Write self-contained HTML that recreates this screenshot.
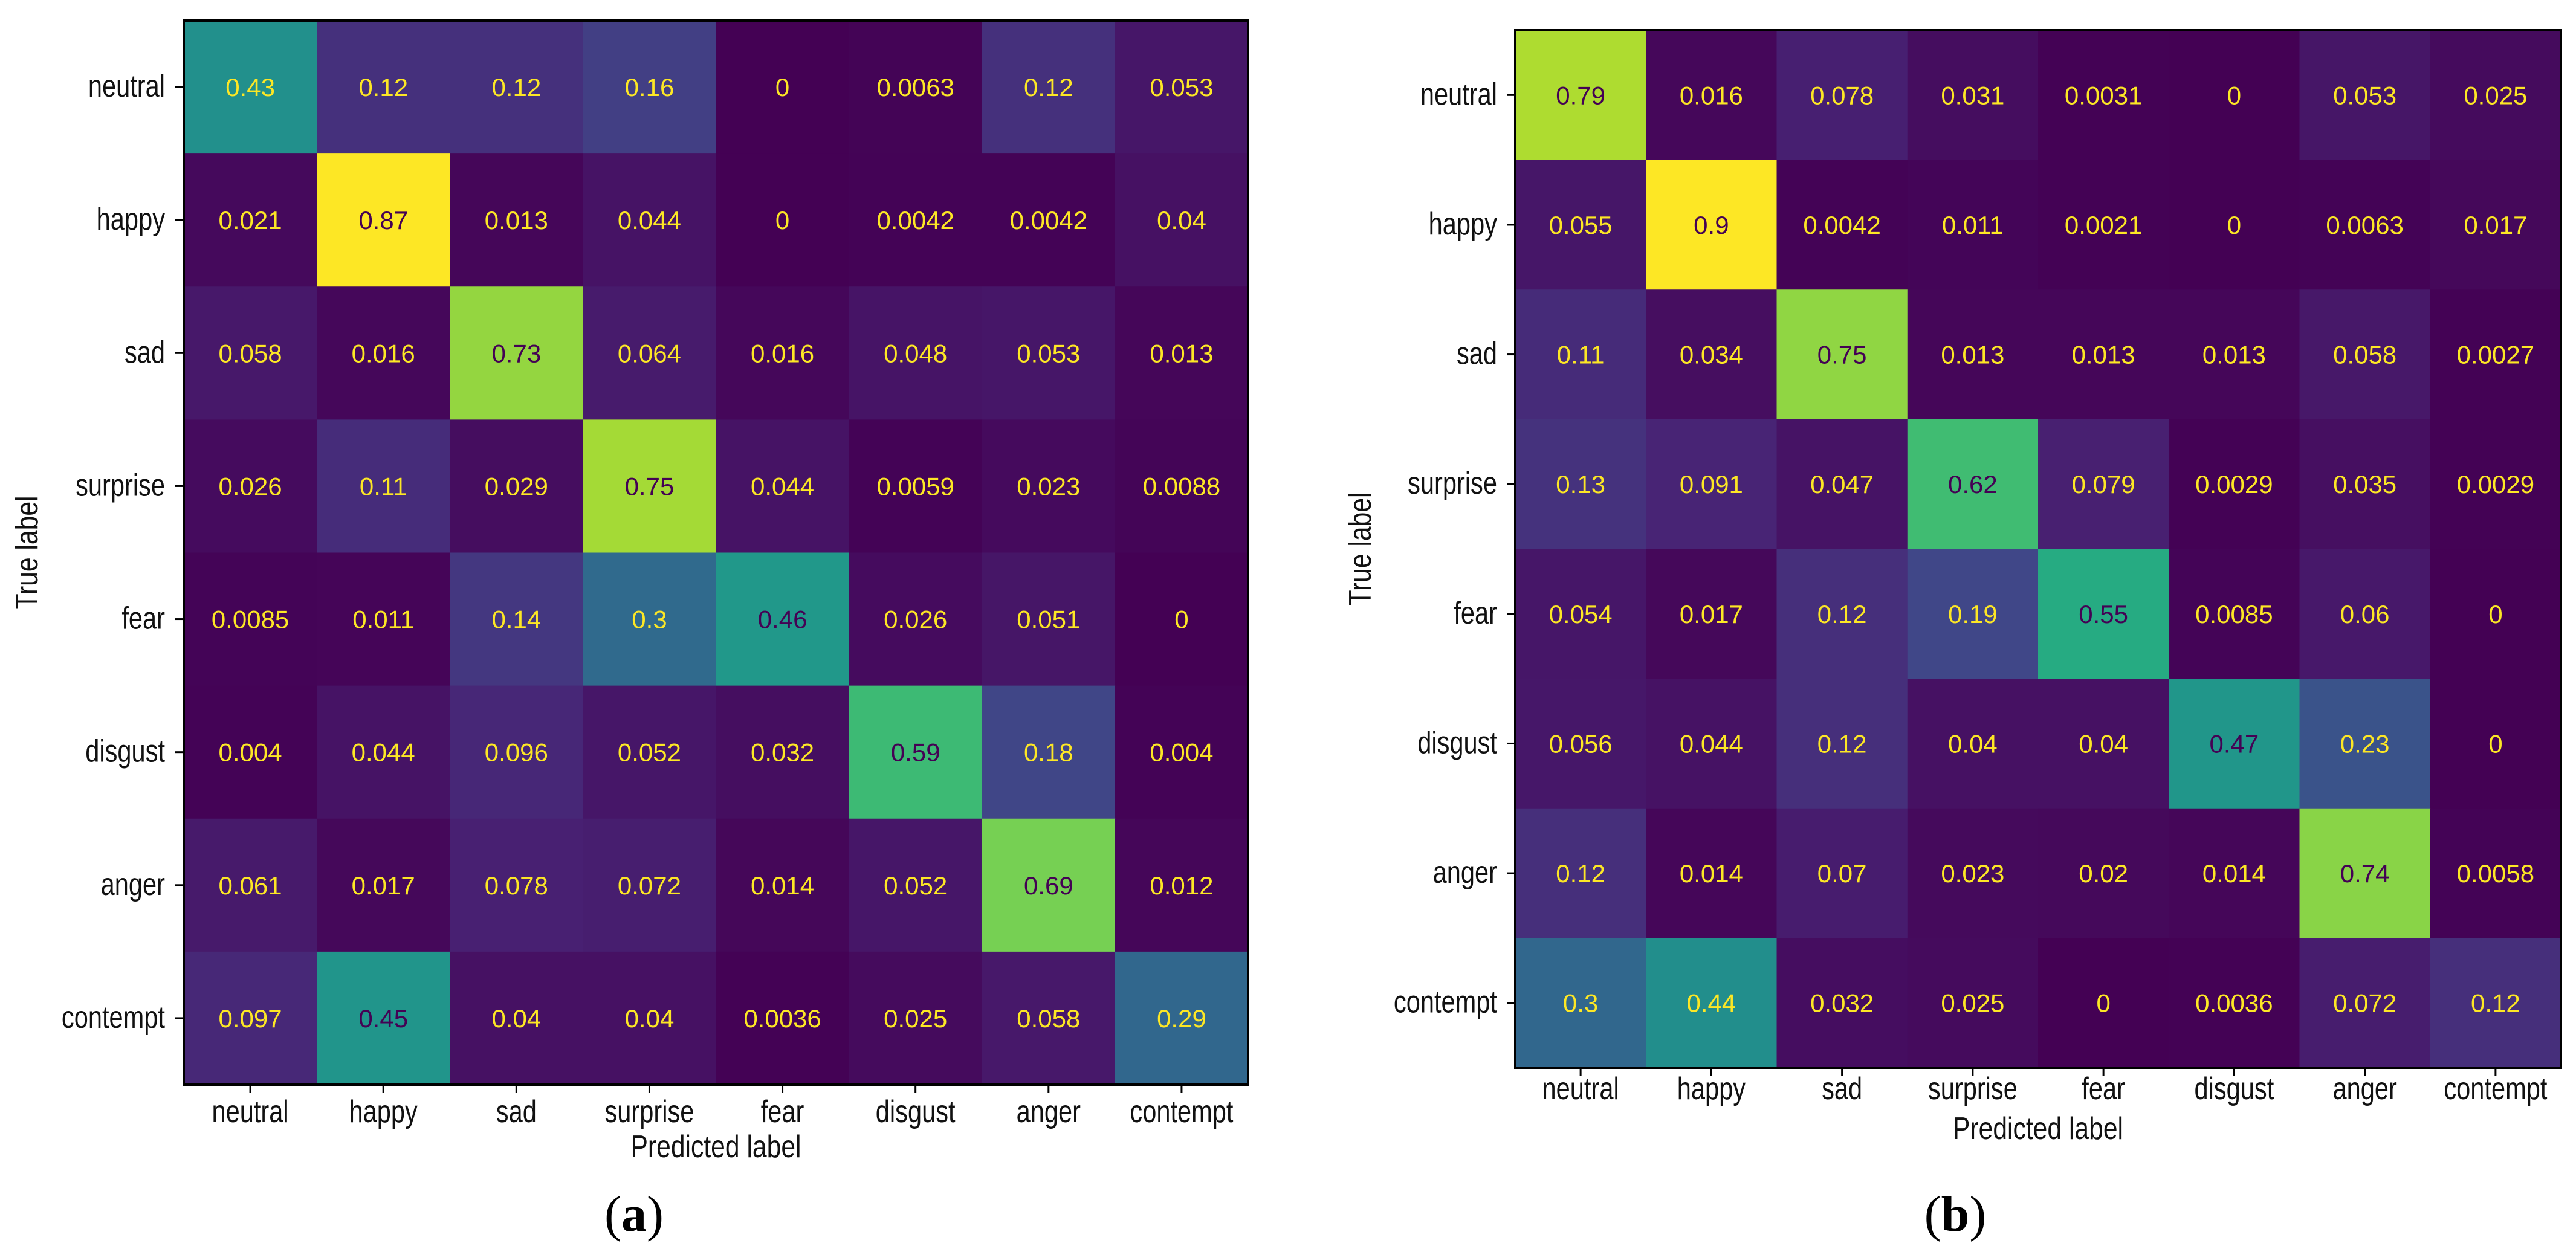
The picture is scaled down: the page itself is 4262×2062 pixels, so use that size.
<!DOCTYPE html>
<html><head><meta charset="utf-8">
<style>
html,body{margin:0;padding:0;background:#fff;}
svg{display:block;}
.sans{font-family:"Liberation Sans","DejaVu Sans",sans-serif;}
.serif{font-family:"Liberation Serif","DejaVu Serif",serif;}
</style></head>
<body>
<svg id="fig" width="4262" height="2062" viewBox="0 0 4262 2062" xmlns="http://www.w3.org/2000/svg"></svg>
<script>
const labels = ["neutral","happy","sad","surprise","fear","disgust","anger","contempt"];
const valuesA = [
 [0.43,0.12,0.12,0.16,0,0.0063,0.12,0.053],
 [0.021,0.87,0.013,0.044,0,0.0042,0.0042,0.04],
 [0.058,0.016,0.73,0.064,0.016,0.048,0.053,0.013],
 [0.026,0.11,0.029,0.75,0.044,0.0059,0.023,0.0088],
 [0.0085,0.011,0.14,0.3,0.46,0.026,0.051,0],
 [0.004,0.044,0.096,0.052,0.032,0.59,0.18,0.004],
 [0.061,0.017,0.078,0.072,0.014,0.052,0.69,0.012],
 [0.097,0.45,0.04,0.04,0.0036,0.025,0.058,0.29]
];
const valuesB = [
 [0.79,0.016,0.078,0.031,0.0031,0,0.053,0.025],
 [0.055,0.9,0.0042,0.011,0.0021,0,0.0063,0.017],
 [0.11,0.034,0.75,0.013,0.013,0.013,0.058,0.0027],
 [0.13,0.091,0.047,0.62,0.079,0.0029,0.035,0.0029],
 [0.054,0.017,0.12,0.19,0.55,0.0085,0.06,0],
 [0.056,0.044,0.12,0.04,0.04,0.47,0.23,0],
 [0.12,0.014,0.07,0.023,0.02,0.014,0.74,0.0058],
 [0.3,0.44,0.032,0.025,0,0.0036,0.072,0.12]
];

const NS="http://www.w3.org/2000/svg";
const svg=document.getElementById('fig');
const VIR=[[68,1,84],[72,36,117],[65,68,135],[53,95,141],[42,120,142],[33,145,140],[34,168,132],[68,191,112],[122,209,81],[189,223,38],[253,231,37]];
function viridis(t){t=Math.max(0,Math.min(1,t));const p=t*(VIR.length-1);const i=Math.min(Math.floor(p),VIR.length-2);const f=p-i;
 const c=VIR[i].map((v,k)=>Math.round(v+(VIR[i+1][k]-v)*f));return `rgb(${c[0]},${c[1]},${c[2]})`;}
function mk(tag,attrs,parent){const e=document.createElementNS(NS,tag);for(const k in attrs)e.setAttribute(k,attrs[k]);(parent||svg).appendChild(e);return e;}

function drawMatrix(cfg){
  const g=mk('g',{});
  
  
  const n=labels.length, cw=(cfg.x1-cfg.x0)/n, ch=(cfg.y1-cfg.y0)/n;
  const xs=i=>cfg.x0+cw*(i+0.5), ys=j=>cfg.y0+ch*(j+0.5);
  const flat=cfg.vals.flat(); const mn=Math.min(...flat), mx=Math.max(...flat);
  cfg.vals.forEach((row,j)=>row.forEach((v,i)=>{
    const t=(v-mn)/(mx-mn);
    const r=mk('rect',{x:cfg.x0+cw*i,y:cfg.y0+ch*j,width:cw+0.6,height:ch+0.6,fill:viridis(t)},g);
    
    
    const tx=mk('text',{class:'sans',x:xs(i),y:ys(j)+15,'text-anchor':'middle','font-size':42,fill:(v<(mn+mx)/2)?'#fde725':'#440154'},g);
    tx.textContent=String(v);
    
    
  }));
  mk('rect',{x:cfg.x0,y:cfg.y0,width:cfg.x1-cfg.x0,height:cfg.y1-cfg.y0,fill:'none',stroke:'#000','stroke-width':4},g);
  labels.forEach((l,i)=>{
    mk('line',{x1:xs(i),x2:xs(i),y1:cfg.y1,y2:cfg.y1+14,stroke:'#000','stroke-width':3},g);
    const t=mk('text',{class:'sans',transform:`translate(${xs(i)},${cfg.y1+cfg.xlab}) scale(0.8,1)`,'text-anchor':'middle','font-size':52,fill:'#111'},g);
    t.textContent=l;
    
    
    mk('line',{x1:cfg.x0-14,x2:cfg.x0,y1:ys(i),y2:ys(i),stroke:'#000','stroke-width':3},g);
    const ty=mk('text',{class:'sans',transform:`translate(${cfg.ylabR},${ys(i)+16}) scale(0.8,1)`,'text-anchor':'end','font-size':52,fill:'#111'},g);
    ty.textContent=l;
    
    
  });
  const xt=mk('text',{class:'sans',transform:`translate(${(cfg.x0+cfg.x1)/2},${cfg.y1+cfg.xtitle}) scale(0.82,1)`,'text-anchor':'middle','font-size':52,fill:'#111'},g);
  xt.textContent='Predicted label';
  
  
  const yt=mk('text',{class:'sans',transform:`translate(${cfg.ytx},${(cfg.y0+cfg.y1)/2}) rotate(-90) scale(0.82,1)`,'text-anchor':'middle','font-size':52,fill:'#111'},g);
  yt.textContent='True label';
  
  
  const cap=mk('text',{class:'serif',x:cfg.capX,y:2037,'text-anchor':'middle','font-size':84,fill:'#000'},svg);
  cap.innerHTML='(<tspan font-weight="bold">'+cfg.cap+'</tspan>)';
  
  
}
drawMatrix({name:'matrix-a',vals:valuesA,x0:304,x1:2065,y0:34,y1:1795,xlab:62,xtitle:120,ylabR:273,ytx:62,capX:1049,cap:'a'});
drawMatrix({name:'matrix-b',vals:valuesB,x0:2507,x1:4237,y0:50,y1:1767,xlab:52,xtitle:118,ylabR:2477,ytx:2268,capX:3235,cap:'b'});
</script>
</body></html>
